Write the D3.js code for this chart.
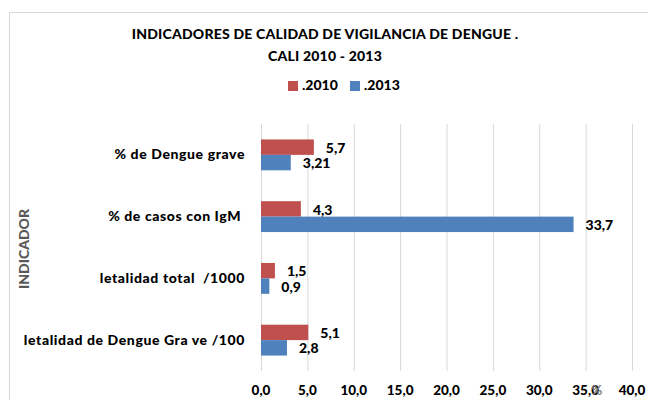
<!DOCTYPE html>
<html>
<head>
<meta charset="utf-8">
<script src="https://cdn.jsdelivr.net/npm/d3@7"></script>
<style>
body { margin: 0; background: #fff; }
svg { font-family: Lato, "Open Sans", sans-serif; font-weight: 900; }
</style>
</head>
<body>
<div id="chart"></div>
<script>
// categories, top to bottom as shown
var categories = ["% de Dengue grave", "% de casos con IgM ", "letalidad total  /1000", "letalidad de Dengue Gra ve /100"];
var series = [".2010", ".2013"];
var values2010 = [5.7, 4.3, 1.5, 5.1];
var values2013 = [3.21, 33.7, 0.9, 2.8];
var labels2010 = ["5,7", "4,3", "1,5", "5,1"];
var labels2013 = ["3,21", "33,7", "0,9", "2,8"];
var ticks = [0, 5, 10, 15, 20, 25, 30, 35, 40];
var colors = ["#c0504d", "#4f81bd"];

const W = 648, H = 400;
const margin = {top: 124, right: 16, bottom: 29, left: 261};

var svg = d3.select("#chart").append("svg")
  .attr("width", W).attr("height", H);

// outer chart border (cropped at right/bottom)
svg.append("path")
  .attr("d", "M9.5," + H + "V12.5H" + W)
  .attr("fill", "none").attr("stroke", "#d9d9d9").attr("stroke-width", 1);

var x = d3.scaleLinear().domain([0, 40]).range([margin.left, 632]);
var y = d3.scaleBand().domain(categories).range([margin.top, H - margin.bottom]).paddingInner(0.5).paddingOuter(0.25);
var y2 = d3.scaleBand().domain(series).range([0, y.bandwidth()]);

// gridlines
svg.append("g").selectAll("line")
  .data(ticks).enter().append("line")
  .attr("x1", d => x(d) + 0.5).attr("x2", d => x(d) + 0.5)
  .attr("y1", margin.top).attr("y2", H - margin.bottom)
  .attr("stroke", "#d9d9d9");

// x tick labels
svg.append("g").selectAll("text")
  .data(ticks).enter().append("text")
  .attr("x", d => x(d)).attr("y", 392)
  .attr("dominant-baseline", "middle")
  .attr("text-anchor", "middle")
  .attr("font-size", 13.5).attr("fill", "#000")
  .text(d => d3.format(".1f")(d).replace(".", ","));

// axis title "%" overlapping the ticks
svg.append("text")
  .attr("x", 597).attr("y", 392)
  .attr("dominant-baseline", "middle").attr("text-anchor", "middle")
  .attr("font-size", 13).attr("fill", "#7f7f7f")
  .text("%");

var rows = categories.map((c, i) => ({cat: c, vals: [values2010[i], values2013[i]], labs: [labels2010[i], labels2013[i]]}));

var g = svg.append("g").selectAll("g")
  .data(rows).enter().append("g")
  .attr("transform", d => "translate(0," + y(d.cat) + ")");

g.selectAll("rect")
  .data(d => d.vals.map((v, j) => ({s: series[j], v: v, j: j}))).enter().append("rect")
  .attr("x", x(0)).attr("y", d => y2(d.s))
  .attr("width", d => x(d.v) - x(0)).attr("height", y2.bandwidth())
  .attr("fill", d => colors[d.j]);

g.selectAll("text.lab")
  .data(d => d.vals.map((v, j) => ({s: series[j], v: v, t: d.labs[j]}))).enter().append("text")
  .attr("class", "lab")
  .attr("x", d => x(d.v) + 12)
  .attr("y", d => y2(d.s) + y2.bandwidth() / 2 + 2)
  .attr("dominant-baseline", "middle")
  .attr("font-size", 14).attr("fill", "#000")
  .text(d => d.t);

// category labels
svg.append("g").selectAll("text")
  .data(categories).enter().append("text")
  .attr("x", 245).attr("y", d => y(d) + y.bandwidth() / 2 + 1)
  .attr("text-anchor", "end").attr("dominant-baseline", "middle")
  .attr("font-size", 14).attr("letter-spacing", 0.6).attr("fill", "#000")
  .style("white-space", "pre")
  .text(d => d);

// y axis title
svg.append("text")
  .attr("transform", "translate(25,249) rotate(-90)")
  .attr("text-anchor", "middle").attr("dominant-baseline", "middle")
  .attr("font-size", 14).attr("fill", "#595959")
  .text("INDICADOR");

// title
svg.append("text")
  .attr("x", 325).attr("y", 35)
  .attr("text-anchor", "middle").attr("dominant-baseline", "middle")
  .attr("font-size", 14).attr("letter-spacing", 0.2).attr("fill", "#000")
  .text("INDICADORES DE CALIDAD DE VIGILANCIA DE DENGUE .");
svg.append("text")
  .attr("x", 325).attr("y", 57)
  .attr("text-anchor", "middle").attr("dominant-baseline", "middle")
  .attr("font-size", 14).attr("letter-spacing", 0.2).attr("fill", "#000")
  .text("CALI 2010 - 2013");

// legend
var legX = [288, 350];
var leg = svg.append("g").selectAll("g")
  .data(series).enter().append("g")
  .attr("transform", (d, i) => "translate(" + legX[i] + ",86)");
leg.append("rect").attr("x", 0).attr("y", -5).attr("width", 10).attr("height", 10)
  .attr("fill", (d, i) => colors[i]);
leg.append("text").attr("x", 14).attr("y", 0)
  .attr("dominant-baseline", "middle")
  .attr("font-size", 14).attr("fill", "#000")
  .text(d => d);
</script>
</body>
</html>
